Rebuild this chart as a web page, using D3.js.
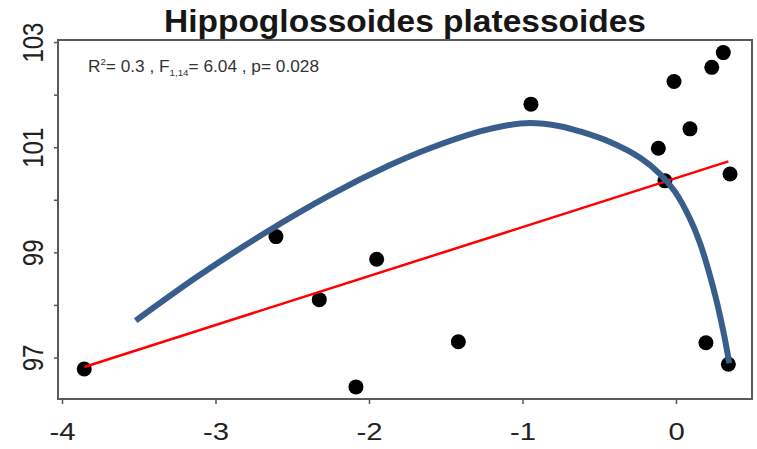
<!DOCTYPE html>
<html>
<head>
<meta charset="utf-8">
<script src="https://cdn.jsdelivr.net/npm/d3@7"></script>
<style>
  body { margin: 0; background: #fff; }
  svg { display: block; }
</style>
</head>
<body>
<svg id="chart" width="757" height="449"></svg>
<script>
// Observations: anomaly (x) vs. response (y)
const pointX = [-3.855, -2.606, -2.324, -1.950, -2.085, -1.418, -0.945, -0.115,
                -0.072, -0.013, 0.091, 0.195, 0.233, 0.308, 0.352, 0.341];
const pointY = [96.78, 99.30, 98.10, 98.87, 96.44, 97.30, 101.82, 100.98,
                100.36, 102.25, 101.35, 97.28, 102.52, 102.80, 100.49, 96.87];

// Linear fit, end points
const fitX = [-3.855, 0.341];
const fitY = [96.82, 100.73];

// Non-linear trend, sampled along its path
const curveX = [-3.520, -3.122, -2.689, -2.254, -1.863, -1.603, -1.277, -1.114, -0.951,
                -0.756, -0.625, -0.430, -0.234, -0.104, -0.006, 0.091, 0.156, 0.243, 0.308, 0.347];
const curveY = [97.70, 98.53, 99.35, 100.09, 100.66, 100.98, 101.30, 101.41, 101.46,
                101.40, 101.30, 101.10, 100.80, 100.49, 100.15, 99.64, 99.18, 98.32, 97.50, 96.89];

const xTicks = [-4, -3, -2, -1, 0];
const yTicks = [97, 98, 99, 100, 101, 102, 103];
const yLabels = [97, 99, 101, 103];
const title = "Hippoglossoides platessoides";

const svg = d3.select("#chart");
const frame = { left: 58, right: 752, top: 40, bottom: 399 };
const stretch = 1.22;

const x = d3.scaleLinear().domain([-4.026, 0.495]).range([frame.left, frame.right]);
const y = d3.scaleLinear().domain([96.21, 103.04]).range([frame.bottom, frame.top]);

// Title
svg.append("text")
  .attr("x", (frame.left + frame.right) / 2)
  .attr("y", 31.5)
  .attr("text-anchor", "middle")
  .attr("font-family", "Liberation Sans, Arial, sans-serif")
  .attr("font-weight", "bold")
  .attr("font-size", 32)
  .attr("fill", "#161616")
  .attr("textLength", 482)
  .attr("lengthAdjust", "spacingAndGlyphs")
  .text(title);

// Axes
const xAxis = svg.append("g")
  .attr("transform", `translate(0,${frame.bottom})`)
  .call(d3.axisBottom(x).tickValues(xTicks).tickSize(5).tickSizeOuter(0)
        .tickFormat(d => d < 0 ? "-" + Math.abs(d) : String(d)));
xAxis.select(".domain").remove();
xAxis.selectAll(".tick line").attr("stroke", "#555").attr("stroke-width", 1.5);
xAxis.selectAll(".tick text")
  .attr("y", null).attr("dy", null)
  .attr("transform", `translate(0,41) scale(${stretch},1)`)
  .attr("font-family", "Liberation Sans, Arial, sans-serif")
  .attr("font-size", 24)
  .attr("fill", "#222");

const yAxis = svg.append("g")
  .attr("transform", `translate(${frame.left},0)`)
  .call(d3.axisLeft(y).tickValues(yTicks).tickSize(4).tickSizeOuter(0)
        .tickFormat(d => yLabels.includes(d) ? String(d) : ""));
yAxis.select(".domain").remove();
yAxis.selectAll(".tick line").attr("stroke", "#555").attr("stroke-width", 1.5);
yAxis.selectAll(".tick text")
  .attr("x", null).attr("dy", null)
  .attr("text-anchor", "middle")
  .attr("transform", `translate(-15,0) scale(${stretch},1) rotate(-90)`)
  .attr("font-family", "Liberation Sans, Arial, sans-serif")
  .attr("font-size", 24)
  .attr("fill", "#222");

// Plot frame
svg.append("rect")
  .attr("x", frame.left).attr("y", frame.top)
  .attr("width", frame.right - frame.left)
  .attr("height", frame.bottom - frame.top)
  .attr("fill", "none")
  .attr("stroke", "#5a5a5a")
  .attr("stroke-width", 2);

// Fit statistics
const stats = svg.append("text")
  .attr("x", 88).attr("y", 72)
  .attr("font-family", "Liberation Sans, Arial, sans-serif")
  .attr("font-size", 16)
  .attr("fill", "#333")
  .attr("textLength", 231)
  .attr("lengthAdjust", "spacingAndGlyphs");
stats.append("tspan").text("R");
stats.append("tspan").attr("font-size", 9).attr("dy", -7).text("2");
stats.append("tspan").attr("dy", 7).text("= 0.3 , F");
stats.append("tspan").attr("font-size", 9).attr("dy", 4).text("1,14");
stats.append("tspan").attr("dy", -4).text("= 6.04 , p= 0.028");

// Points
svg.append("g").selectAll("circle")
  .data(d3.range(pointX.length))
  .join("circle")
  .attr("cx", i => x(pointX[i]))
  .attr("cy", i => y(pointY[i]))
  .attr("r", 7.5)
  .attr("fill", "#000");

// Linear fit
svg.append("path")
  .datum(d3.range(fitX.length))
  .attr("d", d3.line().x(i => x(fitX[i])).y(i => y(fitY[i])))
  .attr("fill", "none")
  .attr("stroke", "#ff0000")
  .attr("stroke-width", 2.5);

// Non-linear trend
svg.append("path")
  .datum(d3.range(curveX.length))
  .attr("d", d3.line().curve(d3.curveCatmullRom.alpha(0.5))
        .x(i => x(curveX[i])).y(i => y(curveY[i])))
  .attr("fill", "none")
  .attr("stroke", "#3a5e8c")
  .attr("stroke-width", 6)
  .attr("stroke-linecap", "butt");
</script>
</body>
</html>
